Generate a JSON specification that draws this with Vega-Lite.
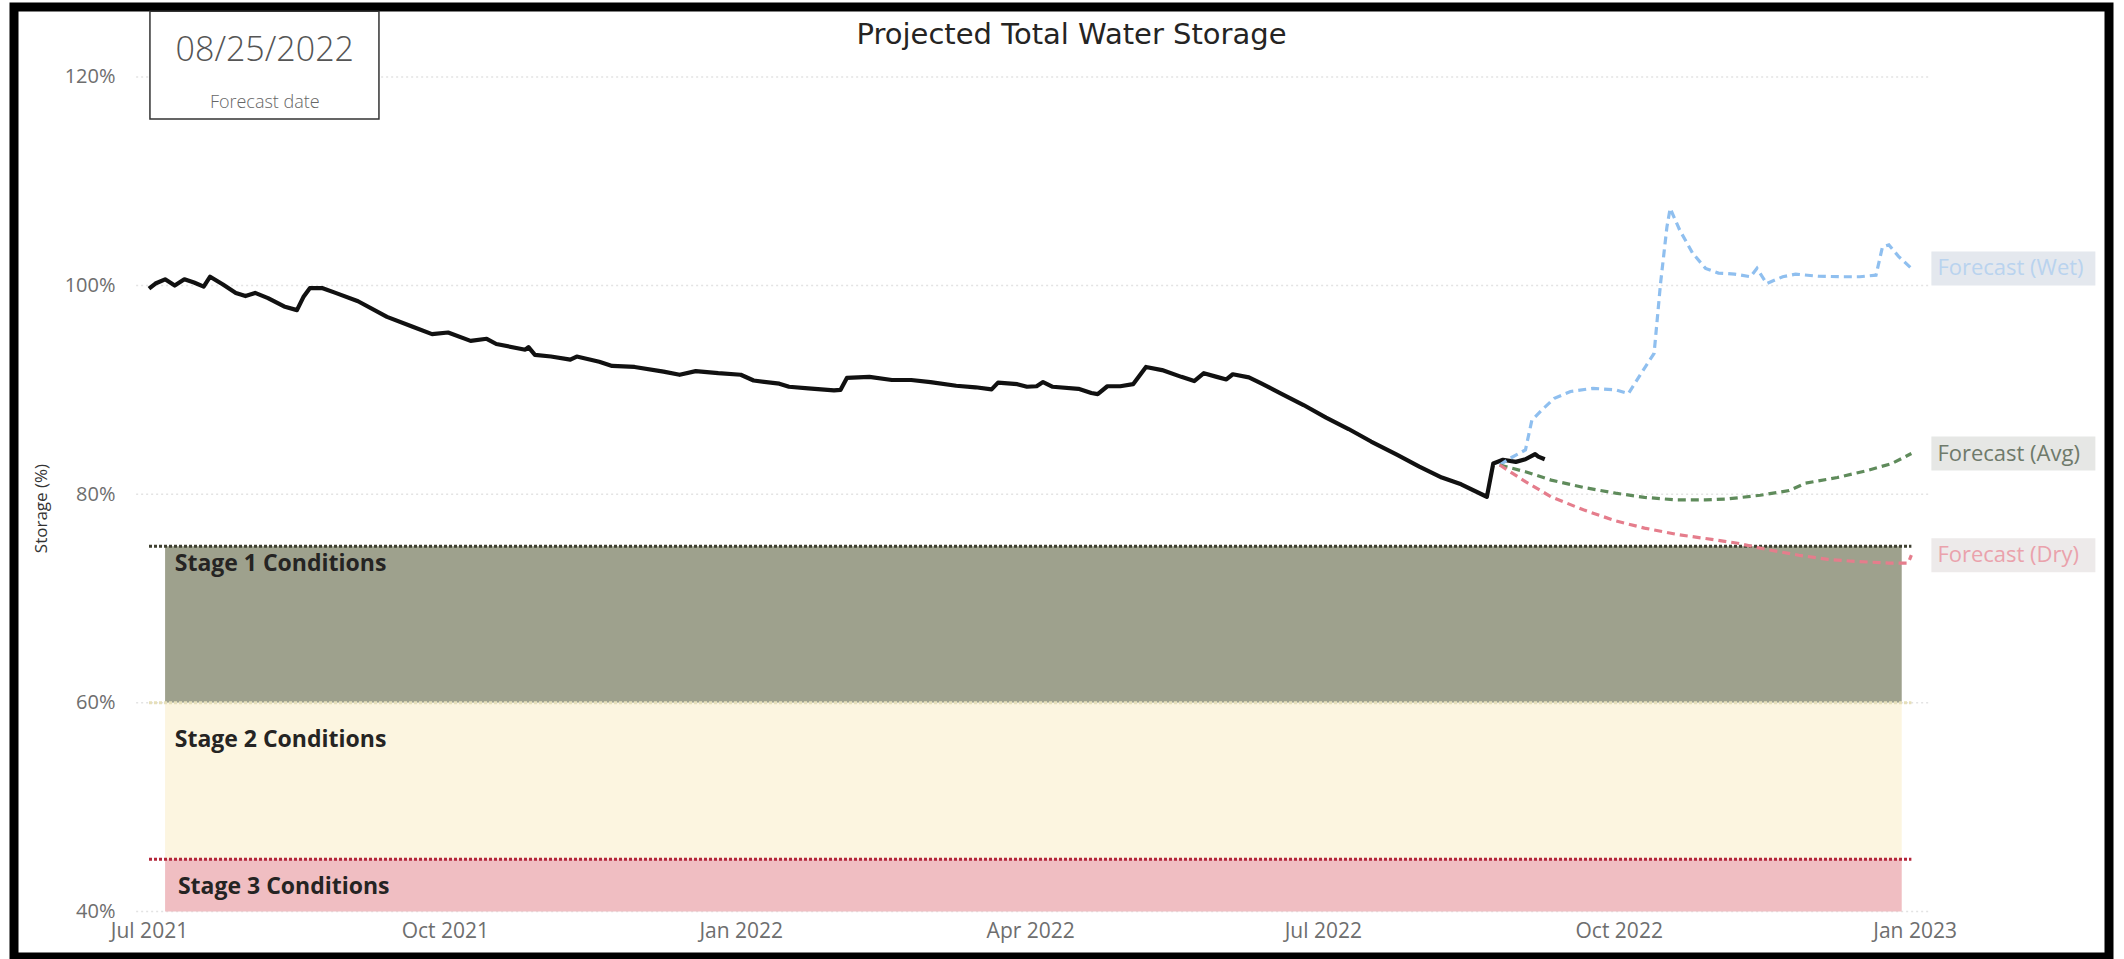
{
  "$schema": "https://vega.github.io/schema/vega-lite/v6.json",
  "width": 2095,
  "height": 950,
  "autosize": {"type": "none"},
  "padding": {"left": 14, "top": 7, "right": 15, "bottom": 2},
  "background": "white",
  "config": {
    "view": {"stroke": "black", "strokeWidth": 9, "fill": "white"},
    "font": "Open Sans"
  },
  "title": {
    "text": "Projected Total Water Storage",
    "fontSize": 29,
    "fontWeight": "normal",
    "color": "#252423",
    "font": "DejaVu Sans",
    "anchor": "middle",
    "baseline": "middle",
    "offset": -57,
    "dx": 10
  },
  "datasets": {
    "series": [
      {"date": "2021-07-01", "value": 99.7, "series": "Actual"},
      {"date": "2021-07-03", "value": 100.2, "series": "Actual"},
      {"date": "2021-07-06", "value": 100.6, "series": "Actual"},
      {"date": "2021-07-09", "value": 100.0, "series": "Actual"},
      {"date": "2021-07-12", "value": 100.6, "series": "Actual"},
      {"date": "2021-07-15", "value": 100.3, "series": "Actual"},
      {"date": "2021-07-18", "value": 99.9, "series": "Actual"},
      {"date": "2021-07-20", "value": 100.85, "series": "Actual"},
      {"date": "2021-07-24", "value": 100.1, "series": "Actual"},
      {"date": "2021-07-28", "value": 99.3, "series": "Actual"},
      {"date": "2021-07-31", "value": 99.0, "series": "Actual"},
      {"date": "2021-08-03", "value": 99.3, "series": "Actual"},
      {"date": "2021-08-07", "value": 98.8, "series": "Actual"},
      {"date": "2021-08-12", "value": 98.0, "series": "Actual"},
      {"date": "2021-08-16", "value": 97.65, "series": "Actual"},
      {"date": "2021-08-18", "value": 98.9, "series": "Actual"},
      {"date": "2021-08-20", "value": 99.75, "series": "Actual"},
      {"date": "2021-08-24", "value": 99.75, "series": "Actual"},
      {"date": "2021-08-28", "value": 99.3, "series": "Actual"},
      {"date": "2021-09-04", "value": 98.5, "series": "Actual"},
      {"date": "2021-09-13", "value": 97.0, "series": "Actual"},
      {"date": "2021-09-21", "value": 96.05, "series": "Actual"},
      {"date": "2021-09-27", "value": 95.35, "series": "Actual"},
      {"date": "2021-10-02", "value": 95.5, "series": "Actual"},
      {"date": "2021-10-09", "value": 94.7, "series": "Actual"},
      {"date": "2021-10-14", "value": 94.9, "series": "Actual"},
      {"date": "2021-10-17", "value": 94.4, "series": "Actual"},
      {"date": "2021-10-26", "value": 93.85, "series": "Actual"},
      {"date": "2021-10-27", "value": 94.1, "series": "Actual"},
      {"date": "2021-10-29", "value": 93.35, "series": "Actual"},
      {"date": "2021-11-03", "value": 93.2, "series": "Actual"},
      {"date": "2021-11-09", "value": 92.9, "series": "Actual"},
      {"date": "2021-11-11", "value": 93.2, "series": "Actual"},
      {"date": "2021-11-18", "value": 92.7, "series": "Actual"},
      {"date": "2021-11-22", "value": 92.3, "series": "Actual"},
      {"date": "2021-11-29", "value": 92.2, "series": "Actual"},
      {"date": "2021-12-08", "value": 91.75, "series": "Actual"},
      {"date": "2021-12-13", "value": 91.45, "series": "Actual"},
      {"date": "2021-12-18", "value": 91.8, "series": "Actual"},
      {"date": "2021-12-25", "value": 91.6, "series": "Actual"},
      {"date": "2022-01-01", "value": 91.45, "series": "Actual"},
      {"date": "2022-01-05", "value": 90.9, "series": "Actual"},
      {"date": "2022-01-13", "value": 90.6, "series": "Actual"},
      {"date": "2022-01-16", "value": 90.3, "series": "Actual"},
      {"date": "2022-01-22", "value": 90.15, "series": "Actual"},
      {"date": "2022-01-30", "value": 89.95, "series": "Actual"},
      {"date": "2022-02-01", "value": 90.0, "series": "Actual"},
      {"date": "2022-02-03", "value": 91.15, "series": "Actual"},
      {"date": "2022-02-10", "value": 91.25, "series": "Actual"},
      {"date": "2022-02-17", "value": 90.95, "series": "Actual"},
      {"date": "2022-02-23", "value": 90.95, "series": "Actual"},
      {"date": "2022-03-01", "value": 90.75, "series": "Actual"},
      {"date": "2022-03-09", "value": 90.4, "series": "Actual"},
      {"date": "2022-03-15", "value": 90.25, "series": "Actual"},
      {"date": "2022-03-20", "value": 90.05, "series": "Actual"},
      {"date": "2022-03-22", "value": 90.7, "series": "Actual"},
      {"date": "2022-03-28", "value": 90.55, "series": "Actual"},
      {"date": "2022-03-31", "value": 90.3, "series": "Actual"},
      {"date": "2022-04-03", "value": 90.35, "series": "Actual"},
      {"date": "2022-04-05", "value": 90.75, "series": "Actual"},
      {"date": "2022-04-08", "value": 90.3, "series": "Actual"},
      {"date": "2022-04-16", "value": 90.1, "series": "Actual"},
      {"date": "2022-04-20", "value": 89.7, "series": "Actual"},
      {"date": "2022-04-22", "value": 89.6, "series": "Actual"},
      {"date": "2022-04-25", "value": 90.35, "series": "Actual"},
      {"date": "2022-04-29", "value": 90.35, "series": "Actual"},
      {"date": "2022-05-03", "value": 90.55, "series": "Actual"},
      {"date": "2022-05-07", "value": 92.2, "series": "Actual"},
      {"date": "2022-05-12", "value": 91.9, "series": "Actual"},
      {"date": "2022-05-18", "value": 91.25, "series": "Actual"},
      {"date": "2022-05-22", "value": 90.85, "series": "Actual"},
      {"date": "2022-05-25", "value": 91.6, "series": "Actual"},
      {"date": "2022-05-29", "value": 91.25, "series": "Actual"},
      {"date": "2022-06-01", "value": 91.0, "series": "Actual"},
      {"date": "2022-06-03", "value": 91.5, "series": "Actual"},
      {"date": "2022-06-08", "value": 91.2, "series": "Actual"},
      {"date": "2022-06-12", "value": 90.6, "series": "Actual"},
      {"date": "2022-06-18", "value": 89.65, "series": "Actual"},
      {"date": "2022-06-25", "value": 88.55, "series": "Actual"},
      {"date": "2022-07-02", "value": 87.35, "series": "Actual"},
      {"date": "2022-07-09", "value": 86.25, "series": "Actual"},
      {"date": "2022-07-16", "value": 85.05, "series": "Actual"},
      {"date": "2022-07-24", "value": 83.8, "series": "Actual"},
      {"date": "2022-07-31", "value": 82.65, "series": "Actual"},
      {"date": "2022-08-07", "value": 81.6, "series": "Actual"},
      {"date": "2022-08-13", "value": 80.95, "series": "Actual"},
      {"date": "2022-08-20", "value": 79.9, "series": "Actual"},
      {"date": "2022-08-21", "value": 79.75, "series": "Actual"},
      {"date": "2022-08-23", "value": 82.95, "series": "Actual"},
      {"date": "2022-08-26", "value": 83.3, "series": "Actual"},
      {"date": "2022-08-30", "value": 83.1, "series": "Actual"},
      {"date": "2022-09-02", "value": 83.35, "series": "Actual"},
      {"date": "2022-09-05", "value": 83.85, "series": "Actual"},
      {"date": "2022-09-06", "value": 83.6, "series": "Actual"},
      {"date": "2022-09-08", "value": 83.35, "series": "Actual"},
      {"date": "2022-08-25", "value": 82.8, "series": "Forecast (Wet)"},
      {"date": "2022-08-28", "value": 83.4, "series": "Forecast (Wet)"},
      {"date": "2022-09-02", "value": 84.25, "series": "Forecast (Wet)"},
      {"date": "2022-09-04", "value": 87.1, "series": "Forecast (Wet)"},
      {"date": "2022-09-07", "value": 88.05, "series": "Forecast (Wet)"},
      {"date": "2022-09-11", "value": 89.2, "series": "Forecast (Wet)"},
      {"date": "2022-09-16", "value": 89.85, "series": "Forecast (Wet)"},
      {"date": "2022-09-23", "value": 90.15, "series": "Forecast (Wet)"},
      {"date": "2022-09-30", "value": 90.0, "series": "Forecast (Wet)"},
      {"date": "2022-10-04", "value": 89.65, "series": "Forecast (Wet)"},
      {"date": "2022-10-08", "value": 91.6, "series": "Forecast (Wet)"},
      {"date": "2022-10-12", "value": 93.5, "series": "Forecast (Wet)"},
      {"date": "2022-10-14", "value": 100.2, "series": "Forecast (Wet)"},
      {"date": "2022-10-16", "value": 105.65, "series": "Forecast (Wet)"},
      {"date": "2022-10-17", "value": 107.4, "series": "Forecast (Wet)"},
      {"date": "2022-10-20", "value": 105.3, "series": "Forecast (Wet)"},
      {"date": "2022-10-24", "value": 103.1, "series": "Forecast (Wet)"},
      {"date": "2022-10-28", "value": 101.65, "series": "Forecast (Wet)"},
      {"date": "2022-11-01", "value": 101.2, "series": "Forecast (Wet)"},
      {"date": "2022-11-06", "value": 101.1, "series": "Forecast (Wet)"},
      {"date": "2022-11-11", "value": 100.85, "series": "Forecast (Wet)"},
      {"date": "2022-11-13", "value": 101.65, "series": "Forecast (Wet)"},
      {"date": "2022-11-16", "value": 100.2, "series": "Forecast (Wet)"},
      {"date": "2022-11-21", "value": 100.85, "series": "Forecast (Wet)"},
      {"date": "2022-11-25", "value": 101.1, "series": "Forecast (Wet)"},
      {"date": "2022-12-02", "value": 100.9, "series": "Forecast (Wet)"},
      {"date": "2022-12-09", "value": 100.85, "series": "Forecast (Wet)"},
      {"date": "2022-12-15", "value": 100.85, "series": "Forecast (Wet)"},
      {"date": "2022-12-20", "value": 101.0, "series": "Forecast (Wet)"},
      {"date": "2022-12-22", "value": 103.7, "series": "Forecast (Wet)"},
      {"date": "2022-12-24", "value": 103.9, "series": "Forecast (Wet)"},
      {"date": "2022-12-27", "value": 102.8, "series": "Forecast (Wet)"},
      {"date": "2022-12-31", "value": 101.65, "series": "Forecast (Wet)"},
      {"date": "2022-08-25", "value": 82.8, "series": "Forecast (Avg)"},
      {"date": "2022-09-02", "value": 82.15, "series": "Forecast (Avg)"},
      {"date": "2022-09-10", "value": 81.35, "series": "Forecast (Avg)"},
      {"date": "2022-09-20", "value": 80.65, "series": "Forecast (Avg)"},
      {"date": "2022-09-30", "value": 80.1, "series": "Forecast (Avg)"},
      {"date": "2022-10-09", "value": 79.7, "series": "Forecast (Avg)"},
      {"date": "2022-10-19", "value": 79.45, "series": "Forecast (Avg)"},
      {"date": "2022-10-28", "value": 79.45, "series": "Forecast (Avg)"},
      {"date": "2022-11-04", "value": 79.55, "series": "Forecast (Avg)"},
      {"date": "2022-11-14", "value": 79.9, "series": "Forecast (Avg)"},
      {"date": "2022-11-23", "value": 80.35, "series": "Forecast (Avg)"},
      {"date": "2022-11-28", "value": 81.05, "series": "Forecast (Avg)"},
      {"date": "2022-12-08", "value": 81.6, "series": "Forecast (Avg)"},
      {"date": "2022-12-17", "value": 82.25, "series": "Forecast (Avg)"},
      {"date": "2022-12-25", "value": 82.95, "series": "Forecast (Avg)"},
      {"date": "2022-12-31", "value": 83.9, "series": "Forecast (Avg)"},
      {"date": "2022-08-25", "value": 82.8, "series": "Forecast (Dry)"},
      {"date": "2022-09-02", "value": 81.2, "series": "Forecast (Dry)"},
      {"date": "2022-09-10", "value": 79.75, "series": "Forecast (Dry)"},
      {"date": "2022-09-20", "value": 78.5, "series": "Forecast (Dry)"},
      {"date": "2022-09-30", "value": 77.45, "series": "Forecast (Dry)"},
      {"date": "2022-10-09", "value": 76.75, "series": "Forecast (Dry)"},
      {"date": "2022-10-19", "value": 76.15, "series": "Forecast (Dry)"},
      {"date": "2022-10-28", "value": 75.75, "series": "Forecast (Dry)"},
      {"date": "2022-11-07", "value": 75.3, "series": "Forecast (Dry)"},
      {"date": "2022-11-16", "value": 74.7, "series": "Forecast (Dry)"},
      {"date": "2022-11-26", "value": 74.15, "series": "Forecast (Dry)"},
      {"date": "2022-12-05", "value": 73.75, "series": "Forecast (Dry)"},
      {"date": "2022-12-14", "value": 73.55, "series": "Forecast (Dry)"},
      {"date": "2022-12-24", "value": 73.4, "series": "Forecast (Dry)"},
      {"date": "2022-12-30", "value": 73.4, "series": "Forecast (Dry)"},
      {"date": "2022-12-31", "value": 74.15, "series": "Forecast (Dry)"}
    ],
    "stages": [
      {"stage": "Stage 1 Conditions", "upper": 75, "lower": 60},
      {"stage": "Stage 2 Conditions", "upper": 60, "lower": 45},
      {"stage": "Stage 3 Conditions", "upper": 45, "lower": 40}
    ],
    "grid": [
      {"level": 40}, {"level": 60}, {"level": 80}, {"level": 100}, {"level": 120}
    ],
    "card": [
      {"forecastDate": "08/25/2022", "caption": "Forecast date"}
    ]
  },
  "layer": [
    {
      "data": {"name": "grid"},
      "mark": {"type": "rule", "color": "#E3E3E3", "strokeWidth": 1.5, "strokeDash": [2, 3]},
      "encoding": {
        "x": {
          "datum": {"year": 2021, "month": 6, "date": 27, "utc": true},
          "type": "temporal",
          "scale": {
            "type": "utc",
            "nice": false,
            "domain": [
              {"year": 2021, "month": 5, "date": 20, "hours": 0, "minutes": 30, "utc": true},
              {"year": 2023, "month": 3, "date": 2, "hours": 10, "minutes": 48, "utc": true}
            ]
          },
          "axis": {
            "values": [
              {"year": 2021, "month": 7, "date": 1, "utc": true},
              {"year": 2021, "month": 10, "date": 1, "utc": true},
              {"year": 2022, "month": 1, "date": 1, "utc": true},
              {"year": 2022, "month": 4, "date": 1, "utc": true},
              {"year": 2022, "month": 7, "date": 1, "utc": true},
              {"year": 2022, "month": 10, "date": 1, "utc": true},
              {"year": 2023, "month": 1, "date": 1, "utc": true}
            ],
            "format": "%b %Y",
            "title": null,
            "grid": false,
            "domain": false,
            "ticks": false,
            "tickSize": 0,
            "offset": -26,
            "labelPadding": 0,
            "labelBaseline": "middle",
            "labelFont": "Open Sans",
            "labelFontSize": 21,
            "labelColor": "#6E6E6E",
            "labelOverlap": false,
            "labelFlush": false,
            "labelBound": false
          }
        },
        "x2": {"datum": {"year": 2023, "month": 1, "date": 6, "utc": true}},
        "y": {
          "field": "level",
          "type": "quantitative",
          "scale": {"domain": [35.63, 126.71], "nice": false, "zero": false},
          "axis": {
            "values": [40, 60, 80, 100, 120],
            "labelExpr": "datum.value + '%'",
            "grid": false,
            "domain": false,
            "ticks": false,
            "tickSize": 0,
            "offset": -101,
            "labelPadding": 0,
            "labelBaseline": "middle",
            "labelFont": "Open Sans",
            "labelFontSize": 20,
            "labelColor": "#6E6E6E",
            "title": "Storage (%)",
            "titleFont": "Open Sans",
            "titleFontSize": 17,
            "titleFontWeight": "normal",
            "titleColor": "#333333",
            "titleX": -65,
            "titleY": 501
          }
        }
      }
    },
    {
      "data": {"name": "stages"},
      "mark": {"type": "rect"},
      "encoding": {
        "x": {"datum": {"year": 2021, "month": 7, "date": 6, "utc": true}, "type": "temporal"},
        "x2": {"datum": {"year": 2022, "month": 12, "date": 28, "utc": true}},
        "y": {"field": "upper", "type": "quantitative"},
        "y2": {"field": "lower"},
        "color": {
          "field": "stage",
          "type": "nominal",
          "scale": {
            "domain": ["Stage 1 Conditions", "Stage 2 Conditions", "Stage 3 Conditions"],
            "range": ["#9EA18D", "#FCF5E0", "#F0BEC2"]
          },
          "legend": null
        }
      }
    },
    {
      "data": {"name": "stages"},
      "mark": {"type": "rule", "strokeWidth": 3, "strokeDash": [3, 2]},
      "encoding": {
        "x": {"datum": {"year": 2021, "month": 7, "date": 1, "utc": true}, "type": "temporal"},
        "x2": {"datum": {"year": 2022, "month": 12, "date": 31, "utc": true}},
        "y": {"field": "upper", "type": "quantitative"},
        "color": {
          "field": "stage",
          "type": "nominal",
          "scale": {
            "domain": ["Stage 1 Conditions", "Stage 2 Conditions", "Stage 3 Conditions"],
            "range": ["#3E3F30", "#E6DFBA", "#B3263A"]
          },
          "legend": null
        }
      }
    },
    {
      "data": {"name": "stages"},
      "transform": [{"filter": "datum.stage == 'Stage 1 Conditions'"}],
      "mark": {"type": "text", "align": "left", "baseline": "middle", "fontSize": 23, "fontWeight": "bold", "color": "#252423", "font": "Open Sans"},
      "encoding": {
        "x": {"datum": {"year": 2021, "month": 7, "date": 9, "utc": true}, "type": "temporal"},
        "y": {"datum": 73.3, "type": "quantitative"},
        "text": {"field": "stage"}
      }
    },
    {
      "data": {"name": "stages"},
      "transform": [{"filter": "datum.stage == 'Stage 2 Conditions'"}],
      "mark": {"type": "text", "align": "left", "baseline": "middle", "fontSize": 23, "fontWeight": "bold", "color": "#252423", "font": "Open Sans"},
      "encoding": {
        "x": {"datum": {"year": 2021, "month": 7, "date": 9, "utc": true}, "type": "temporal"},
        "y": {"datum": 56.4, "type": "quantitative"},
        "text": {"field": "stage"}
      }
    },
    {
      "data": {"name": "stages"},
      "transform": [{"filter": "datum.stage == 'Stage 3 Conditions'"}],
      "mark": {"type": "text", "align": "left", "baseline": "middle", "fontSize": 23, "fontWeight": "bold", "color": "#252423", "font": "Open Sans"},
      "encoding": {
        "x": {"datum": {"year": 2021, "month": 7, "date": 10, "utc": true}, "type": "temporal"},
        "y": {"datum": 42.3, "type": "quantitative"},
        "text": {"field": "stage"}
      }
    },
    {
      "data": {"name": "series"},
      "transform": [{"filter": "datum.series == 'Actual'"}],
      "mark": {"type": "line", "color": "#111111", "strokeWidth": 4.2, "strokeJoin": "round"},
      "encoding": {
        "x": {"field": "date", "type": "temporal"},
        "y": {"field": "value", "type": "quantitative"}
      }
    },
    {
      "data": {"name": "series"},
      "transform": [{"filter": "datum.series != 'Actual'"}],
      "mark": {"type": "line", "strokeWidth": 3.2, "strokeDash": [8, 5]},
      "encoding": {
        "x": {"field": "date", "type": "temporal"},
        "y": {"field": "value", "type": "quantitative"},
        "color": {
          "field": "series",
          "type": "nominal",
          "scale": {
            "domain": ["Forecast (Wet)", "Forecast (Avg)", "Forecast (Dry)"],
            "range": ["#8FBFEF", "#5F8B5B", "#E57D8C"]
          },
          "legend": null
        }
      }
    },
    {
      "data": {"name": "series"},
      "transform": [
        {"filter": "datum.series != 'Actual'"},
        {"joinaggregate": [{"op": "max", "field": "date", "as": "lastDate"}], "groupby": ["series"]},
        {"filter": "time(datum.date) == time(datum.lastDate)"}
      ],
      "mark": {"type": "rect", "width": 164, "height": 34, "xOffset": 102, "yOffset": 0},
      "encoding": {
        "x": {"field": "date", "type": "temporal"},
        "y": {"field": "value", "type": "quantitative"},
        "color": {
          "field": "series",
          "type": "nominal",
          "scale": {
            "domain": ["Forecast (Wet)", "Forecast (Avg)", "Forecast (Dry)"],
            "range": ["#E4E8EE", "#E6E7E5", "#EDEAEA"]
          },
          "legend": null
        }
      }
    },
    {
      "data": {"name": "series"},
      "transform": [
        {"filter": "datum.series != 'Actual'"},
        {"joinaggregate": [{"op": "max", "field": "date", "as": "lastDate"}], "groupby": ["series"]},
        {"filter": "time(datum.date) == time(datum.lastDate)"}
      ],
      "mark": {"type": "text", "align": "left", "baseline": "middle", "dx": 26, "dy": 0, "fontSize": 22, "font": "Open Sans"},
      "encoding": {
        "x": {"field": "date", "type": "temporal"},
        "y": {"field": "value", "type": "quantitative"},
        "text": {"field": "series"},
        "color": {
          "field": "series",
          "type": "nominal",
          "scale": {
            "domain": ["Forecast (Wet)", "Forecast (Avg)", "Forecast (Dry)"],
            "range": ["#B9D3EE", "#6F7A6B", "#EAA2AC"]
          },
          "legend": null
        }
      }
    },
    {
      "data": {"name": "card"},
      "mark": {"type": "rect", "fill": "white", "stroke": "#333333", "strokeWidth": 1.5},
      "encoding": {
        "x": {"datum": {"year": 2021, "month": 7, "date": 1, "hours": 7, "utc": true}, "type": "temporal"},
        "x2": {"datum": {"year": 2021, "month": 9, "date": 10, "hours": 12, "utc": true}},
        "y": {"datum": 126.3, "type": "quantitative"},
        "y2": {"datum": 115.97}
      }
    },
    {
      "data": {"name": "card"},
      "mark": {"type": "text", "align": "center", "baseline": "middle", "fontSize": 34, "fontWeight": 300, "color": "#555555", "font": "Open Sans"},
      "encoding": {
        "x": {"datum": {"year": 2021, "month": 8, "date": 6, "utc": true}, "type": "temporal"},
        "y": {"datum": 122.5, "type": "quantitative"},
        "text": {"field": "forecastDate"}
      }
    },
    {
      "data": {"name": "card"},
      "mark": {"type": "text", "align": "center", "baseline": "middle", "fontSize": 18, "fontWeight": 300, "color": "#666666", "font": "Open Sans"},
      "encoding": {
        "x": {"datum": {"year": 2021, "month": 8, "date": 6, "utc": true}, "type": "temporal"},
        "y": {"datum": 117.5, "type": "quantitative"},
        "text": {"field": "caption"}
      }
    }
  ],
  "resolve": {"scale": {"color": "independent"}}
}
